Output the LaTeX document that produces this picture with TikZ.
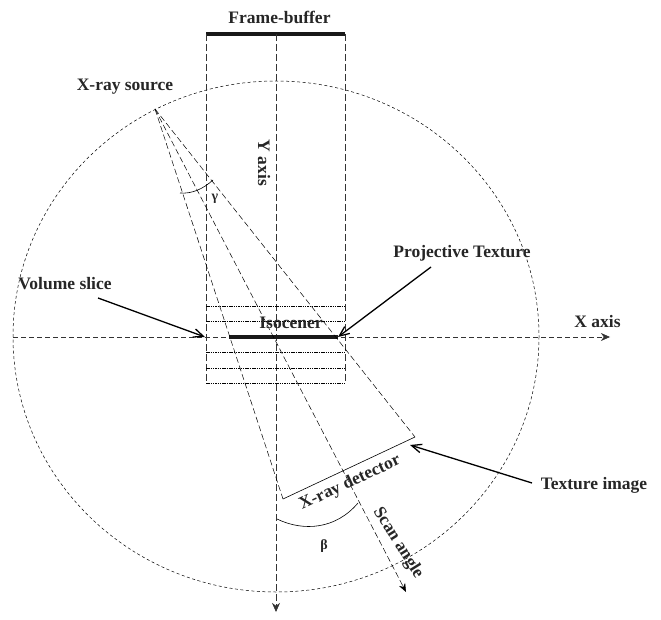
\documentclass[tikz,border=0pt]{standalone}
\usepackage{fontspec}
\setmainfont{Liberation Serif}
\usetikzlibrary{positioning,arrows.meta}

\begin{document}
\begin{tikzpicture}[
  x=1pt, y=-1pt,
  lbl/.style={font=\bfseries\fontsize{17.5}{19}\selectfont, text=black!85, inner sep=0pt},
  grk/.style={font=\bfseries\fontsize{14}{15}\selectfont, text=black!85, inner sep=0pt},
  dashline/.style={dash pattern=on 7pt off 3pt, line width=0.7pt, black!80},
  thindash/.style={dash pattern=on 6pt off 3pt, line width=0.5pt},
  dotline/.style={dash pattern=on 1.5pt off 0.8pt, line width=0.5pt},
  circdash/.style={dash pattern=on 3pt off 2.5pt, line width=0.5pt},
  bar/.style={line width=3.2pt, black!90},
  arr/.style={-{Straight Barb[length=3.5mm,width=3mm]}, line width=1.3pt},
  axisline/.style={dashline, -{Stealth[length=3.2mm,width=2.8mm]}},
]
  \useasboundingbox (0,0) rectangle (661,620);

  \coordinate (ctr)  at (276,336.5);
  \coordinate (src)  at (155,109);
  \coordinate (fbl)  at (206,34);
  \coordinate (fbr)  at (345,34);
  \coordinate (fbm)  at (276,34);
  \coordinate (vbl)  at (206,383);
  \coordinate (vbr)  at (345,383);
  \coordinate (yend) at (276,612);
  \coordinate (xbeg) at (13,337);
  \coordinate (xend) at (610,337);
  \coordinate (detl) at (283,499);
  \coordinate (detr) at (415,437);
  \coordinate (scan) at (406,592);
  \coordinate (isol) at (229,337);
  \coordinate (isor) at (338,337);
  \coordinate (vs)   at (98,298);
  \coordinate (ve)   at (205,337);
  \coordinate (ps)   at (431,267);
  \coordinate (ts)   at (532,483);
  \coordinate (te)   at (410,445);

  % circle of the scan
  \draw[circdash] (ctr) ellipse (263 and 255.5);

  % frame-buffer and volume box
  \draw[bar] (fbl) -- (fbr);
  \draw[dashline] (fbl) -- (vbl);
  \draw[dashline] (fbr) -- (vbr);
  \draw[axisline] (fbm) -- (yend);
  \draw[axisline, dash pattern=on 5pt off 3pt] (xbeg) -- (xend);
  \foreach \y in {306,321,352,368,383}
    \draw[dotline] (206,\y) -- (345,\y);
  \draw[bar] (isol) -- (isor);

  % rays and detector
  \draw[thindash] (src) -- (detl);
  \draw[thindash] (src) -- (detr);
  \draw[thindash, -{Stealth[length=3mm,width=2.4mm]}] (src) -- (scan);
  \draw[line width=0.6pt] (detl) -- (detr);

  % angles
  \draw[line width=0.6pt] (180,193) .. controls (192,194) and (203,189) .. (213,180);
  \draw[line width=0.6pt] (277,519) .. controls (304,532) and (336,529) .. (358,503);

  % labels
  \node[lbl] (fb)   at (279.5,17) {Frame-buffer};
  \node[lbl] (xsrc) at (125,87)   {X-ray source};
  \node[lbl, rotate=-90] (yax) at (264,163) {Y axis};
  \node[grk] (gam)  at (215,199)  {γ};
  \node[lbl] (iso)  at (291,323)  {Isocener};
  \node[lbl] (vol)  at (65,284)   {Volume slice};
  \node[lbl] (prj)  at (462,253)  {Projective Texture};
  \node[lbl] (xax)  at (597.5,322) {X axis};
  \node[lbl] (tex)  at (594,485)  {Texture image};
  \node[lbl, rotate=25] (det) at (350,483) {X-ray detector};
  \node[lbl, rotate=-58] (sca) at (398,543) {Scan angle};
  \node[grk] (bet)  at (324,546)  {β};

  % pointers
  \draw[arr] (vs) -- (ve);
  \draw[arr] (ps) -- (isor);
  \draw[arr] (ts) -- (te);
\end{tikzpicture}
\end{document}
